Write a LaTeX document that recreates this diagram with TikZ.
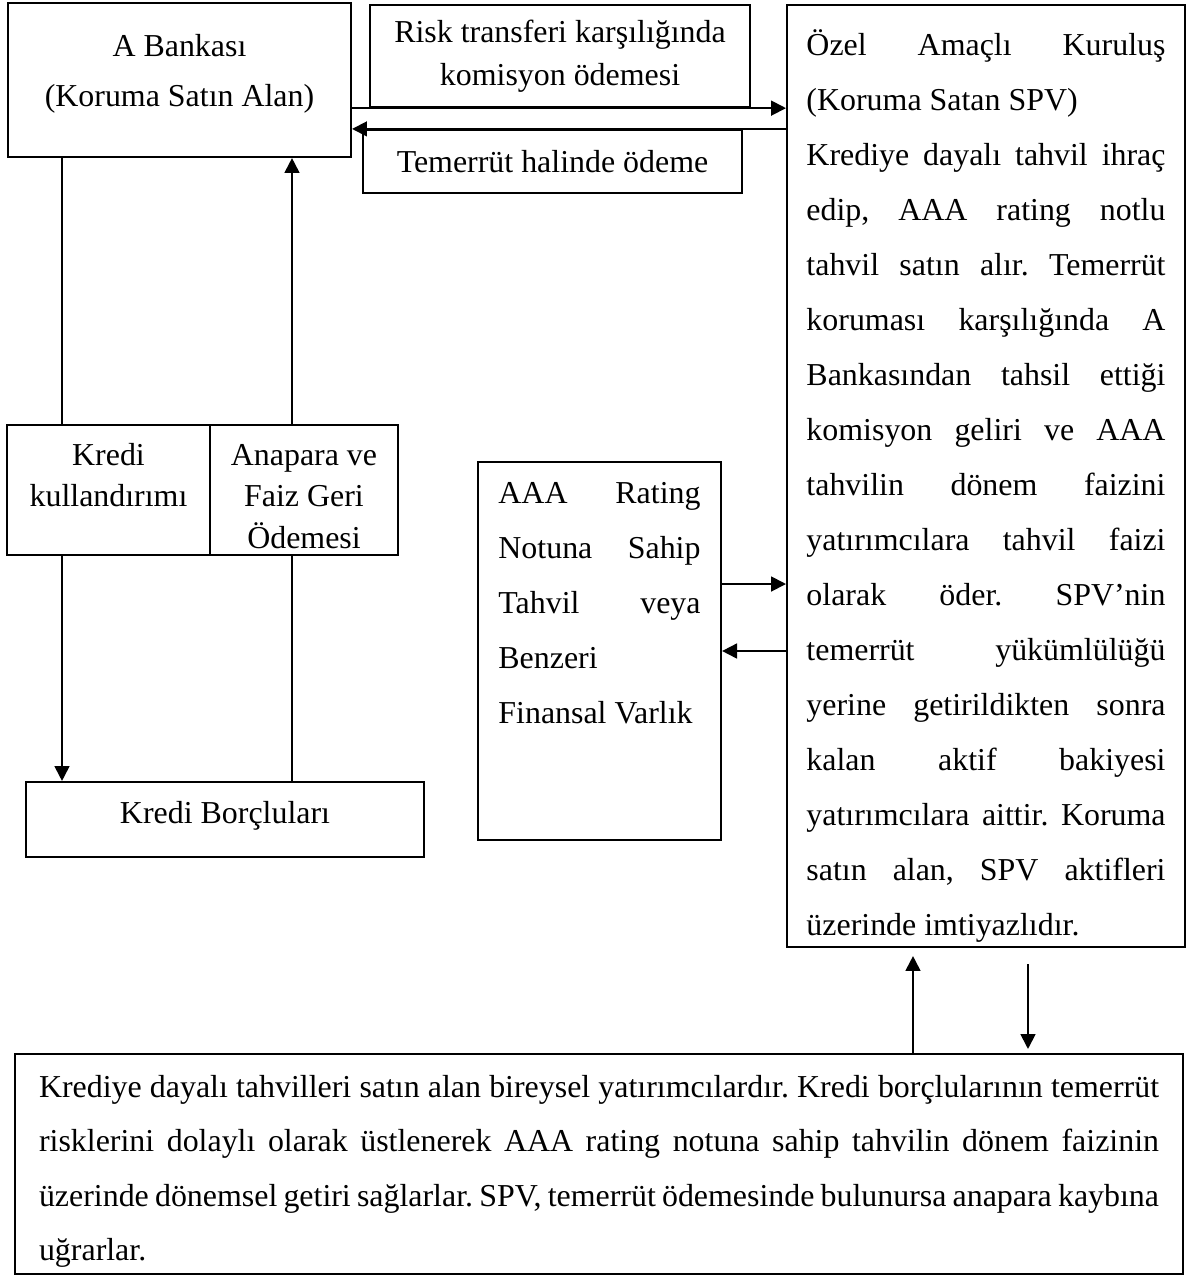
\documentclass[tikz,border=0pt]{standalone}
\usepackage{fontspec}
\setmainfont{Liberation Serif}
\usetikzlibrary{arrows.meta}
\setlength{\parindent}{0pt}
\frenchspacing
\hbadness=10000

\begin{document}
\begin{tikzpicture}[
    x=0.376pt, y=-0.376pt,
    box/.style={draw, line width=0.8pt, inner sep=0pt, align=center, font=\fontsize{12}{15.6}\selectfont},
    textbox/.style={draw, line width=0.8pt, inner ysep=0pt, align=justify, font=\fontsize{12}{20.7}\selectfont},
    arrow/.style={-{Triangle[length=5.6pt,width=5.6pt]}, line width=0.7pt},
    link/.style={line width=0.7pt}
]
\useasboundingbox (0,0) rectangle (1189,1277);

\node[box, minimum width=129pt, minimum height=57.9pt, text depth=7.5pt, font=\fontsize{12}{18.8}\selectfont] (bankA) at (179.5,80) {A Bankası\\(Koruma Satın Alan)};
\node[box, minimum width=142.9pt, minimum height=38.4pt, font=\fontsize{12}{16.2}\selectfont] (riskbox) at (560,56) {Risk transferi karşılığında\\komisyon ödemesi};
\node[box, minimum width=142.5pt, minimum height=23.7pt] (defbox) at (552.5,161.5) {Temerrüt halinde ödeme};
\node[box, minimum width=76.3pt, minimum height=48.9pt, text depth=11.5pt] (kcredit) at (108.5,490) {Kredi\\kullandırımı};
\node[box, minimum width=70.7pt, minimum height=48.9pt, text height=44pt] (repay) at (304,490) {Anapara ve\\Faiz Geri\\Ödemesi};
\node[box, minimum width=149.6pt, minimum height=28.2pt, text depth=5.2pt] (debtors) at (225,819.5) {Kredi Borçluları};

\node[textbox, text width=76pt, inner xsep=7.7pt, minimum height=142.1pt, text depth=118.7pt] (aaa) at (599.5,651)
  {AAA Rating\linebreak Notuna Sahip\linebreak Tahvil veya\linebreak Benzeri\par Finansal Varlık};

\node[textbox, text width=135pt, inner xsep=7.3pt, minimum height=354.2pt, text depth=326.3pt] (spv) at (986,476)
  {Özel Amaçlı Kuruluş\linebreak (Koruma Satan SPV)\par
   Krediye dayalı tahvil ihraç\linebreak edip, AAA rating notlu\linebreak
   tahvil satın alır. Temerrüt\linebreak koruması karşılığında A\linebreak
   Bankasından tahsil ettiği\linebreak komisyon geliri ve AAA\linebreak
   tahvilin dönem faizini\linebreak yatırımcılara tahvil faizi\linebreak
   olarak öder. SPV’nin\linebreak temerrüt yükümlülüğü\linebreak
   yerine getirildikten sonra\linebreak kalan aktif bakiyesi\linebreak
   yatırımcılara aittir. Koruma\linebreak satın alan, SPV aktifleri\linebreak
   üzerinde imtiyazlıdır.};

\node[textbox, text width=421.1pt, inner xsep=9pt, minimum height=82.7pt, text depth=58.2pt, font=\fontsize{12}{20.4}\selectfont] (invest) at (599,1164)
  {Krediye dayalı tahvilleri satın alan bireysel yatırımcılardır. Kredi borçlularının temerrüt\linebreak
   risklerini dolaylı olarak üstlenerek AAA rating notuna sahip tahvilin dönem faizinin\linebreak
   üzerinde dönemsel getiri sağlarlar. SPV, temerrüt ödemesinde bulunursa anapara kaybına\linebreak
   uğrarlar.};

\coordinate (lendx) at (62,0);
\coordinate (payx) at (292,0);
\coordinate (upx) at (913,0);
\coordinate (downx) at (1028,0);
\coordinate (selly) at (0,584);

\draw[link] (bankA.south -| lendx) -- (kcredit.north -| lendx);
\draw[arrow] (kcredit.south -| lendx) -- (debtors.north -| lendx);
\draw[link] (debtors.north -| payx) -- (repay.south -| payx);
\draw[arrow] (repay.north -| payx) -- (bankA.south -| payx);
\draw[arrow] (bankA.east |- riskbox.south) -- (spv.west |- riskbox.south);
\draw[arrow] (spv.west |- defbox.north) -- (bankA.east |- defbox.north);
\draw[arrow] (aaa.east |- selly) -- (spv.west |- selly);
\draw[arrow] (spv.west |- aaa.east) -- (aaa.east);
\draw[arrow, shorten >=3pt] (invest.north -| upx) -- (spv.south -| upx);
\draw[arrow, shorten <=6pt, shorten >=1.5pt] (spv.south -| downx) -- (invest.north -| downx);

\end{tikzpicture}
\end{document}
